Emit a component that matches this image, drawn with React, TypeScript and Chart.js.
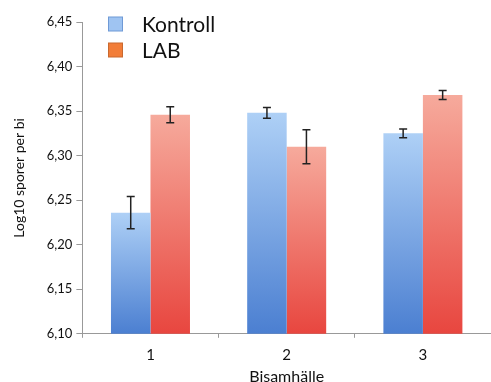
import React, { useEffect, useRef } from "react";
import { Chart, registerables } from "chart.js";

Chart.register(...registerables);

const categories = ["1", "2", "3"];
const kontrollValues = [6.236, 6.348, 6.325];
const kontrollErrors = [0.018, 0.006, 0.005];
const labValues = [6.346, 6.31, 6.368];
const labErrors = [0.009, 0.019, 0.005];
const yTicks = [6.1, 6.15, 6.2, 6.25, 6.3, 6.35, 6.4, 6.45];

const FONT = "Lato, 'Open Sans', sans-serif";

function gradientFor(topColor: string, bottomColor: string) {
  return (ctx: any) => {
    const chart = ctx.chart;
    const area = chart.chartArea;
    if (!area || ctx.parsed == null) return bottomColor;
    const y = chart.scales.y;
    const top = y.getPixelForValue(ctx.parsed.y);
    const g = chart.ctx.createLinearGradient(0, top, 0, area.bottom);
    g.addColorStop(0, topColor);
    g.addColorStop(1, bottomColor);
    return g;
  };
}

const errorBarPlugin = {
  id: "errorBars",
  afterDatasetsDraw(chart: any) {
    const ctx = chart.ctx;
    const y = chart.scales.y;
    ctx.save();
    ctx.strokeStyle = "#222";
    ctx.lineWidth = 1.5;
    chart.data.datasets.forEach((ds: any, di: number) => {
      const meta = chart.getDatasetMeta(di);
      meta.data.forEach((bar: any, i: number) => {
        const v = ds.data[i];
        const e = ds.errors[i];
        const yt = y.getPixelForValue(v + e);
        const yb = y.getPixelForValue(v - e);
        const x = bar.x;
        ctx.beginPath();
        ctx.moveTo(x, yt);
        ctx.lineTo(x, yb);
        ctx.moveTo(x - 4, yt);
        ctx.lineTo(x + 4, yt);
        ctx.moveTo(x - 4, yb);
        ctx.lineTo(x + 4, yb);
        ctx.stroke();
      });
    });
    ctx.restore();
  },
};

const legendPlugin = {
  id: "customLegend",
  afterDraw(chart: any) {
    const ctx = chart.ctx;
    const items = [
      { label: chart.data.datasets[0].label, fill: "#9fc4f2", stroke: "#6f9ad6" },
      { label: chart.data.datasets[1].label, fill: "#f27d38", stroke: "#c9692f" },
    ];
    ctx.save();
    items.forEach((it, i) => {
      const cy = 24 + i * 26;
      ctx.fillStyle = it.fill;
      ctx.strokeStyle = it.stroke;
      ctx.lineWidth = 1;
      ctx.fillRect(108.5, cy - 7, 14, 14);
      ctx.strokeRect(108.5, cy - 7, 14, 14);
      ctx.fillStyle = "#111";
      ctx.font = "21px " + FONT;
      ctx.textBaseline = "middle";
      ctx.textAlign = "left";
      ctx.fillText(it.label, 142, cy + 1);
    });
    ctx.restore();
  },
};

export default function App() {
  const ref = useRef<HTMLCanvasElement>(null);
  useEffect(() => {
    document.body.style.margin = "0";
    const chart = new Chart(ref.current!, {
      type: "bar",
      data: {
        labels: categories,
        datasets: [
          {
            label: "Kontroll",
            data: kontrollValues,
            errors: kontrollErrors,
            backgroundColor: gradientFor("#aed0f6", "#4b7fd1"),
            categoryPercentage: 0.58,
            barPercentage: 1.0,
          } as any,
          {
            label: "LAB",
            data: labValues,
            errors: labErrors,
            backgroundColor: gradientFor("#f6aa9c", "#e8463f"),
            categoryPercentage: 0.58,
            barPercentage: 1.0,
          } as any,
        ],
      },
      options: {
        responsive: false,
        animation: false,
        layout: { padding: { top: 22, right: 0, left: 11, bottom: -4 } },
        plugins: {
          legend: { display: false },
          tooltip: { enabled: false },
        },
        scales: {
          x: {
            grid: { drawOnChartArea: false, drawTicks: true, tickLength: 4, color: "#999" },
            border: { color: "#999", width: 1 },
            ticks: { color: "#111", font: { size: 15, family: FONT }, padding: 8 },
            title: {
              display: true,
              text: "Bisamhälle",
              color: "#111",
              font: { size: 16, family: FONT },
              padding: { top: -5, bottom: 0 },
            },
          },
          y: {
            min: 6.1,
            max: 6.45,
            afterBuildTicks: (axis: any) => {
              axis.ticks = yTicks.map((v) => ({ value: v }));
            },
            grid: { drawOnChartArea: false, drawTicks: true, tickLength: 6, color: "#999" },
            border: { color: "#999", width: 1 },
            ticks: {
              color: "#111",
              font: { size: 13, family: FONT },
              padding: 4,
              callback: (v: any) => Number(v).toFixed(2).replace(".", ","),
            },
            title: {
              display: true,
              text: "Log10 sporer per bi",
              color: "#111",
              font: { size: 14, family: FONT },
              padding: { top: 0, bottom: 15 },
            },
          },
        },
      },
      plugins: [errorBarPlugin, legendPlugin],
    });
    return () => chart.destroy();
  }, []);
  return <canvas ref={ref} width={491} height={382} style={{ display: "block" }} />;
}
